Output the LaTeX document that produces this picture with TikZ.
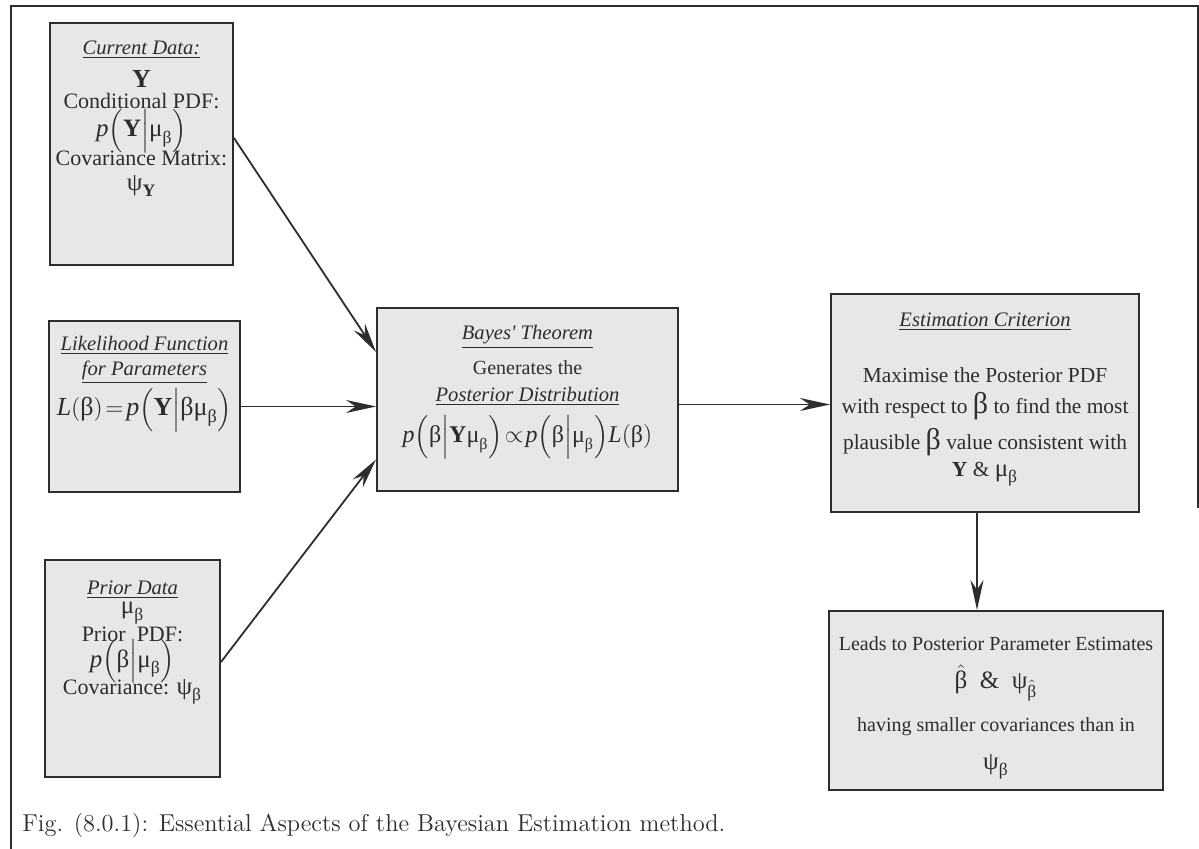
\documentclass[tikz,border=0pt]{standalone}
\usepackage{fontspec}
\usepackage{amsmath}
\newfontfamily\tnr{Liberation Serif}
\usetikzlibrary{arrows.meta}
\definecolor{boxfill}{RGB}{231,231,231}
\definecolor{ink}{RGB}{45,45,45}
% Greek letters set upright in the text font
\newcommand{\gb}{\text{β}}
\newcommand{\gm}{\text{μ}}
\newcommand{\gp}{\text{ψ}}
\newcommand{\hd}[1]{\underline{\textit{#1}}}
% conditional density p(a|b) with tall delimiters
\newcommand{\cond}[2]{\textit{p}\Bigl(#1\Big|#2\Bigr)}

\begin{document}
\begin{tikzpicture}[x=0.5pt,y=-0.5pt,
  box/.style={draw=ink, line width=1pt, fill=boxfill, inner sep=0pt},
  txt/.style={inner sep=0pt, text=ink, align=center, font=\tnr\fontsize{11}{13}\selectfont},
  hdg/.style={txt, font=\tnr\fontsize{10.3}{12}\selectfont},
  sml/.style={txt, font=\tnr\fontsize{10}{12}\selectfont},
  est/.style={txt, font=\tnr\fontsize{10.7}{12}\selectfont},
  mid/.style={txt, font=\tnr\fontsize{12.5}{9.8}\selectfont},
  big/.style={txt, font=\tnr\fontsize{13}{15.5}\selectfont},
  arr/.style={draw=ink, line width=0.9pt, -{Stealth[length=15pt,width=6.5pt]}},
  frame/.style={draw=ink, line width=1pt}]
\useasboundingbox (0,0) rectangle (1199,849);

% outer frame
\draw[frame] (11,849) -- (11,6) -- (1198,6) -- (1198,508);

% boxes
\node[box, minimum width=91.5pt, minimum height=121pt]  (A) at (141.5,144) {};
\node[box, minimum width=95.5pt, minimum height=85.5pt] (B) at (144.5,406.5) {};
\node[box, minimum width=87.5pt, minimum height=108.5pt](C) at (132.5,668.5) {};
\node[box, minimum width=150.5pt, minimum height=91.5pt](D) at (527.5,399.5) {};
\node[box, minimum width=154pt, minimum height=109pt]   (E) at (985,403) {};
\node[box, minimum width=167pt, minimum height=89.5pt]  (F) at (996,700.5) {};

% current data
\node[hdg] (a1) at (141.5,50) {\hd{Current Data:}};
\node[big] (a2) at (141.5,79) {\textbf{Y}};
\node[txt] (a3) at (141.5,101) {Conditional PDF:};
\node[mid] (a4) at (141.5,131) {$\cond{\textbf{Y}}{\gm_{\gb}}$};
\node[txt] (a5) at (141.5,158) {Covariance Matrix:};
\node[mid] (a6) at (141.5,186) {$\gp_{\textbf{Y}}$};

% likelihood
\node[hdg] (b1) at (144.5,345) {\hd{Likelihood Function}};
\node[hdg] (b2) at (144.5,372) {\hd{for Parameters}};
\node[big] (b3) at (144.5,410) {$\thickmuskip=2mu \textit{L}(\gb)=\cond{\textbf{Y}}{\gb\gm_{\gb}}$};

% prior data
\node[hdg] (c1) at (132.5,590) {\hd{Prior Data}};
\node[mid] (c2) at (132.5,613) {$\gm_{\gb}$};
\node[txt] (c3) at (132.5,634) {Prior\ \ PDF:};
\node[mid] (c4) at (132.5,661) {$\cond{\gb}{\gm_{\gb}}$};
\node[txt] (c5) at (132.5,692) {Covariance: {\fontsize{12.5}{14}\selectfont$\gp_{\gb}$}};

% Bayes' theorem
\node[hdg] (d1) at (527.5,337) {\hd{Bayes' Theorem}};
\node[sml] (d2) at (527.5,368) {Generates the};
\node[hdg] (d3) at (527.5,396) {\hd{Posterior Distribution}};
\node[big, font=\tnr\fontsize{12}{15}\selectfont] (d4) at (527.5,437) {$\thickmuskip=1.5mu \cond{\gb}{\textbf{Y}\gm_{\gb}}\propto\cond{\gb}{\gm_{\gb}}\textit{L}(\gb)$};

% estimation criterion
\node[hdg] (e1) at (985,322) {\hd{Estimation Criterion}};
\node[est] (e2) at (985,375) {Maximise the Posterior PDF};
\node[est] (e3) at (985,406) {with respect to {\fontsize{15}{17}\selectfont β} to find the most};
\node[est] (e4) at (985,442) {plausible {\fontsize{15}{17}\selectfont β} value consistent with};
\node[est] (e5) at (985,474) {\textbf{Y} \& {\fontsize{12.5}{14}\selectfont$\gm_{\gb}$}};

% posterior estimates
\node[sml] (f1) at (996,644) {Leads to Posterior Parameter Estimates};
\node[mid] (f2) at (996,683) {$\hat{\gb}\ \ \text{\&}\ \ \gp_{\hat{\gb}}$};
\node[sml] (f3) at (996,727) {having smaller covariances than in};
\node[mid] (f4) at (996,767) {$\gp_{\gb}$};

% connectors
\draw[arr] ([yshift=3pt]A.east) -- ([yshift=23.75pt]D.west);
\draw[arr] (B.east) -- (B.east -| D.west);
\draw[arr] ([yshift=3.25pt]C.east) -- ([yshift=-30pt]D.west);
\draw[arr] ([yshift=-2.5pt]D.east) -- ([yshift=-2.5pt]D.east -| E.west);
\draw[arr] ([xshift=-4pt]E.south) -- ([xshift=-4pt]E.south |- F.north);

% caption
\node[anchor=west, inner sep=0pt, text=ink, font=\fontsize{12.2}{14}\selectfont] (cap) at (22,825)
  {Fig. (8.0.1): Essential Aspects of the Bayesian Estimation method.};
\end{tikzpicture}
\end{document}
